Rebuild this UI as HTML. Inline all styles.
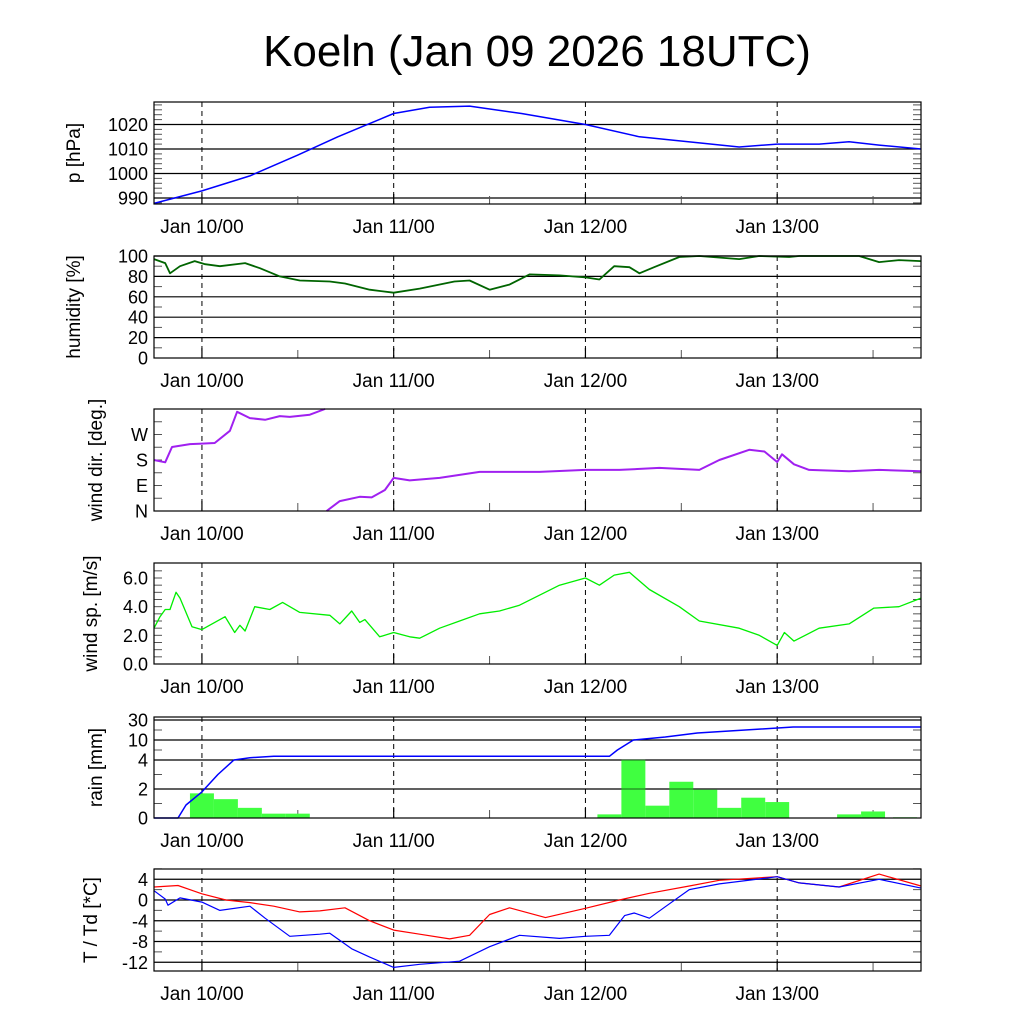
<!DOCTYPE html>
<html><head><meta charset="utf-8">
<style>
body{margin:0;background:#fff;}
svg{display:block;font-family:"Liberation Sans",sans-serif;}
</style></head>
<body>
<svg id="chart" width="1024" height="1024" viewBox="0 0 1024 1024">
<rect width="1024" height="1024" fill="#fff"/>
<text x="537" y="66" font-size="44" text-anchor="middle">Koeln (Jan 09 2026 18UTC)</text>
</svg>
<script>
// ---- data (time in hours since Jan 09 18UTC) ----
const dayLabels = ["Jan 10/00","Jan 11/00","Jan 12/00","Jan 13/00"];
const dayHours = [6,30,54,78];
const presT = [0,6,12,18,23,30,34.5,39.5,46,54,60.75,68.25,73.25,78,83.25,87,90.75,96];
const presV = [987.8,992.9,999,1007.5,1015,1024.5,1027,1027.5,1024.5,1020,1015,1012.5,1010.8,1012,1012,1013,1011.6,1010];
const humT = [0,1.4,2,3.25,5.1,6.4,8.25,11.4,13.25,15.75,18.25,22,23.9,27,30,33.25,37.6,39.5,42,44.5,47,50.75,54,55.75,57.6,59.5,60.75,62.6,65.75,68.25,73.25,75.75,79.5,80.75,88.25,90.75,93.25,96];
const humV = [97,93,83,90,95,92,90,93,88,80,76,75,73,67,64,68,75,76,67,72,82,81,79,77,90,89,83,89,99,100,97,100,99,100,100,94,96,95];
const wdT = [0,1.4,2.25,4.5,6,7.6,9.5,10.4,12,13.9,15.75,17,19.5,21.4,21.6,23.25,25.75,27.25,28.9,30,32,35.75,40.75,44.5,48.25,54,58.25,63.25,68.25,70.75,74.5,76.4,78,78.6,80.1,82,87,90.75,96];
const wdV = [180,172,226,236,238,240,283,350,328,322,335,332,340,360,0,35,50,48,74,117,108,117,138,138,138,145,145,152,145,180,216,210,173,200,165,145,140,145,140];
const wsT = [0,0.75,1.4,2,2.75,3.25,4.75,6,8.9,10.1,10.75,11.4,12.6,14.5,16.1,18.25,22,23.25,24.75,25.75,26.4,28.25,30,32,33.25,35.75,38.25,40.75,43.25,45.75,50.75,54,55.75,57.6,59.5,62,65.75,68.25,73.25,75.75,78,78.9,80.1,83.25,87,90.1,93.25,96];
const wsV = [2.5,3.3,3.8,3.8,5.0,4.6,2.6,2.4,3.3,2.2,2.7,2.3,4.0,3.8,4.3,3.6,3.4,2.8,3.7,2.9,3.1,1.9,2.2,1.9,1.8,2.5,3.0,3.5,3.7,4.1,5.5,6.0,5.5,6.2,6.4,5.2,4.0,3.0,2.5,2.0,1.3,2.2,1.6,2.5,2.8,3.9,4.0,4.6];
const rainBarT = [6,9,12,15,18,57,60,63,66,69,72,75,78,87,90,94];
const rainBarV = [1.7,1.3,0.7,0.3,0.3,0.25,4.1,0.85,2.5,1.95,0.7,1.4,1.1,0.25,0.45,0.05];
const rainCumT = [0,3,4,6,8,10,12,15,57,58,60,64,68,72,76,80,96];
const rainCumV = [0,0,0.9,1.8,3.0,4.0,4.7,5.1,5.1,7,10,13,17,19,21,23,23];
const tT = [0,3,6,9,12,15,18.25,20.75,23.9,27,30,33.25,37,39.5,42,44.5,49,54,58.25,62,67,70.75,78,80.75,85.75,90.75,96];
const tV = [2.5,2.8,1.2,0,-0.5,-1.2,-2.3,-2.1,-1.5,-4,-5.8,-6.6,-7.5,-6.8,-2.8,-1.5,-3.4,-1.6,0,1.3,2.7,3.8,4.5,3.3,2.5,5,2.7];
const tdT = [0,1.4,1.75,3.25,6,8.25,12,13.9,17,20.75,22,24.75,27,30,33.25,38.25,42,45.75,50.75,54,57,58.9,60.1,62,63.9,67,70.75,78,80.75,85.75,90.75,96];
const tdV = [1.8,0.2,-1,0.4,-0.4,-2,-1.2,-3.5,-7,-6.6,-6.4,-9.4,-11,-13,-12.4,-11.8,-9,-6.8,-7.4,-7,-6.8,-3,-2.5,-3.5,-1.4,2,3.1,4.5,3.3,2.5,4,2.3];

// ---- layout ----
const X0=154,X1=921,HRS=96;
const svg=document.getElementById('chart');
const NS="http://www.w3.org/2000/svg";
function xs(h){return X0+(X1-X0)*h/HRS;}
function mk(tag,attrs,parent){const e=document.createElementNS(NS,tag);for(const k in attrs)e.setAttribute(k,attrs[k]);(parent||svg).appendChild(e);return e;}
function lin(d0,d1,p0,p1){return v=>p0+(v-d0)*(p1-p0)/(d1-d0);}

function panel(o){
  const g=mk('g',{});
  
  
  const ys=o.ys;
  o.grid.forEach(v=>{const y=ys(v);const l=mk('line',{x1:X0,x2:X1,y1:y,y2:y,stroke:'#000','stroke-width':1.2},g);
    });
  (o.minor||[]).forEach(v=>{const y=ys(v);mk('line',{x1:X0,x2:X0+8,y1:y,y2:y,stroke:'#555','stroke-width':1},g);mk('line',{x1:X1-8,x2:X1,y1:y,y2:y,stroke:'#555','stroke-width':1},g);});
  dayHours.forEach((h,i)=>{const x=xs(h);const l=mk('line',{x1:x,x2:x,y1:o.top,y2:o.bot,stroke:'#000','stroke-width':1,'stroke-dasharray':'5,4'},g);
    
    const t=mk('text',{x:x,y:o.bot+29,'font-size':19,'text-anchor':'middle'},g);t.textContent=dayLabels[i];
    
    mk('line',{x1:x,x2:x,y1:o.bot-10,y2:o.bot,stroke:'#000','stroke-width':1.2},g);
  });
  [18,42,66,90].forEach(h=>{const x=xs(h);mk('line',{x1:x,x2:x,y1:o.bot-8,y2:o.bot,stroke:'#555','stroke-width':1},g);});
  o.labels.forEach((lab,i)=>{const t=mk('text',{x:X0-6,y:ys(o.labelVals[i])+6.5,'font-size':18,'text-anchor':'end'},g);t.textContent=lab;
    });
  const cy=(o.top+o.bot)/2;
  const at=mk('text',{x:0,y:0,'font-size':19,'text-anchor':'middle',transform:`translate(${o.tx},${cy}) rotate(-90)`},g);at.textContent=o.title;
  
  if(o.draw)o.draw(g,ys);
  const fr=mk('rect',{x:X0,y:o.top,width:X1-X0,height:o.bot-o.top,fill:'none',stroke:'#000','stroke-width':1.2},g);
  
  return g;
}
function line(g,T,V,ys,color,name,w,wrap){
  let segs=[[]];
  for(let i=0;i<T.length;i++){
    if(wrap&&i>0&&Math.abs(V[i]-V[i-1])>180){segs.push([]);}
    segs[segs.length-1].push(xs(T[i]).toFixed(1)+','+ys(V[i]).toFixed(1));
  }
  segs.forEach(s=>{const p=mk('polyline',{points:s.join(' '),fill:'none',stroke:color,'stroke-width':w||1.5,'stroke-linejoin':'round'},g);
    });
}

panel({name:'pressure',top:102,bot:204,tx:80,title:'p [hPa]',ys:lin(1010,1020,149,124.5),
  grid:[990,1000,1010,1020],labels:['990','1000','1010','1020'],labelVals:[990,1000,1010,1020],
  minor:[988,992,994,996,998,1002,1004,1006,1008,1012,1014,1016,1018,1022,1024,1026,1028],
  draw:(g,ys)=>line(g,presT,presV,ys,'#0000ff','pressure-line',1.5)});
panel({name:'humidity',top:256,bot:358,tx:80,title:'humidity [%]',ys:lin(0,100,358,256),
  grid:[20,40,60,80,100],labels:['0','20','40','60','80','100'],labelVals:[0,20,40,60,80,100],
  minor:[10,30,50,70,90],
  draw:(g,ys)=>line(g,humT,humV,ys,'#006400','humidity-line',1.8)});
panel({name:'wind-direction',top:409,bot:511,tx:102,title:'wind dir. [deg.]',ys:lin(0,360,511,409),
  grid:[],labels:['N','E','S','W'],labelVals:[0,90,180,270],
  minor:[45,90,135,180,225,270,315],
  draw:(g,ys)=>line(g,wdT,wdV,ys,'#a020f0','wind-direction-line',2,true)});
panel({name:'wind-speed',top:563,bot:664,tx:97,title:'wind sp. [m/s]',ys:lin(0,6,664,578),
  grid:[],labels:['0.0','2.0','4.0','6.0'],labelVals:[0,2,4,6],
  minor:[0.5,1,1.5,2,2.5,3,3.5,4,4.5,5,5.5,6,6.5],
  draw:(g,ys)=>line(g,wsT,wsV,ys,'#00ee00','wind-speed-line',1.3)});
const rainDom=[0,2,4,10,30], rainPix=[818,789,760,740,720];
function rainY(v){for(let i=0;i<rainDom.length-1;i++){if(v<=rainDom[i+1]||i===rainDom.length-2){return rainPix[i]+(v-rainDom[i])*(rainPix[i+1]-rainPix[i])/(rainDom[i+1]-rainDom[i]);}}}
panel({name:'rain',top:717,bot:818,tx:102,title:'rain [mm]',ys:rainY,
  grid:[2,4,10,30],labels:['0','2','4','10','30'],labelVals:[0,2,4,10,30],
  minor:[1,3,7,20],
  draw:(g,ys)=>{
    rainBarT.forEach((h,i)=>{const x0=xs(h-1.5),x1=xs(h+1.5);const y=ys(rainBarV[i]);
      const r=mk('rect',{x:x0,y:y,width:x1-x0,height:ys(0)-y,fill:'#40ff40'},g);
      });
    [2,4].forEach(v=>mk('line',{x1:X0,x2:X1,y1:ys(v),y2:ys(v),stroke:'#000','stroke-width':1,opacity:0.6},g));
    line(g,rainCumT,rainCumV,ys,'#0000ff','rain-cumulative-line',1.5);
  }});
panel({name:'temperature',top:869,bot:971,tx:97,title:'T / Td [*C]',ys:lin(0,4,900,879.25),
  grid:[-12,-8,-4,0,4],labels:['-12','-8','-4','0','4'],labelVals:[-12,-8,-4,0,4],
  minor:[-10,-6,-2,2,6],
  draw:(g,ys)=>{line(g,tT,tV,ys,'#ff0000','temperature-line',1.2);line(g,tdT,tdV,ys,'#0000ff','dewpoint-line',1.2);}});
</script>
</body></html>
